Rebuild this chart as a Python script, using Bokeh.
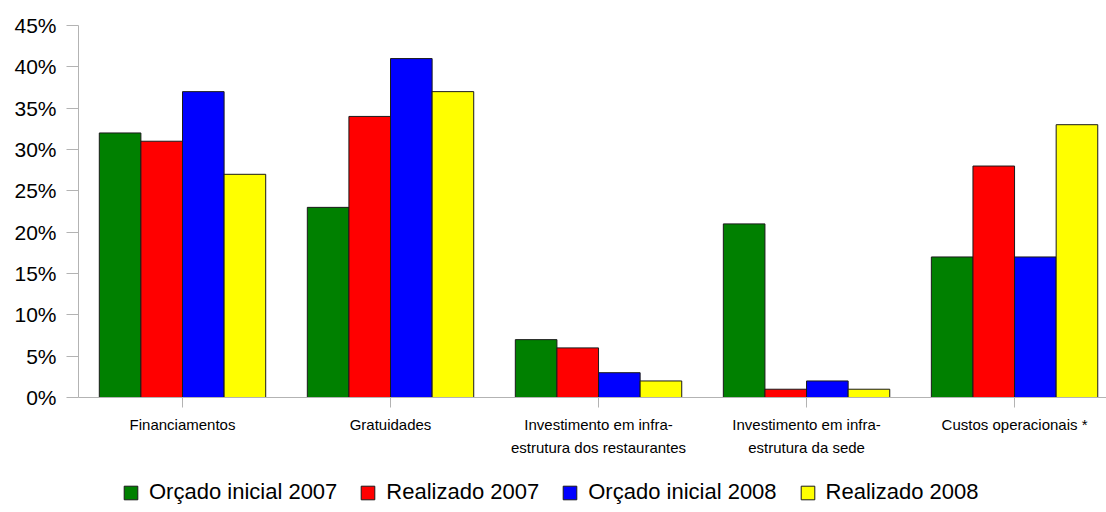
from bokeh.plotting import figure
from bokeh.layouts import column
from bokeh.models import (Range1d, FixedTicker, PrintfTickFormatter, Legend,
                          LegendItem, ColumnDataSource)
from bokeh.transform import dodge
from bokeh.embed import file_html
from bokeh.resources import INLINE

# Budget categories (x axis)
categories = [
    "Financiamentos",
    "Gratuidades",
    "Investimento em infra-\nestrutura dos restaurantes",
    "Investimento em infra-\nestrutura da sede",
    "Custos operacionais *",
]

# Series names (legend)
series_names = ["Orçado inicial 2007", "Realizado 2007",
                "Orçado inicial 2008", "Realizado 2008"]

# Share of each category, in percent
orcado_inicial_2007 = [32, 23, 7, 21, 17]
realizado_2007 = [31, 34, 6, 1, 28]
orcado_inicial_2008 = [37, 41, 3, 2, 17]
realizado_2008 = [27, 37, 2, 1, 33]

# Y axis ticks, in percent
y_ticks = [0, 5, 10, 15, 20, 25, 30, 35, 40, 45]

colors = ["#008000", "#ff0000", "#0000ff", "#ffff00"]
series_values = [orcado_inicial_2007, realizado_2007,
                 orcado_inicial_2008, realizado_2008]

W, H, LEGEND_H = 1106, 512, 50

centers = [i + 0.5 for i in range(len(categories))]
data = {"x": centers}
for i, vals in enumerate(series_values):
    data[f"s{i}"] = vals
source = ColumnDataSource(data)

p = figure(width=W, height=H - LEGEND_H, output_backend="svg",
           toolbar_location=None, title=None,
           x_range=Range1d(0, 4.942), y_range=Range1d(0, 45),
           min_border_left=78, min_border_right=0, min_border_top=25,
           min_border_bottom=H - LEGEND_H - 397)
p.outline_line_color = None
p.xgrid.visible = False
p.ygrid.visible = False

bar_w = 0.2
offsets = [-0.3, -0.1, 0.1, 0.3]
for i, col in enumerate(colors):
    p.vbar(x=dodge("x", offsets[i]), top=f"s{i}", width=bar_w, bottom=0,
           source=source, fill_color=col, line_color="#1a1a1a", line_width=1)

axis_gray = "#b3b3b3"

# Y axis
p.yaxis.ticker = FixedTicker(ticks=y_ticks)
p.yaxis.formatter = PrintfTickFormatter(format="%d%%")
p.yaxis.axis_line_color = axis_gray
p.yaxis.major_tick_line_color = axis_gray
p.yaxis.major_tick_out = 12
p.yaxis.major_tick_in = 0
p.yaxis.minor_tick_line_color = None
p.yaxis.major_label_standoff = 10
p.yaxis.major_label_text_font = "Liberation Sans"
p.yaxis.major_label_text_font_size = "21px"
p.yaxis.major_label_text_color = "black"

# X axis
p.xaxis.ticker = FixedTicker(ticks=centers)
p.xaxis.major_label_overrides = {c: lab for c, lab in zip(centers, categories)}
p.xaxis.axis_line_color = axis_gray
p.xaxis.major_tick_line_color = axis_gray
p.xaxis.major_tick_out = 10
p.xaxis.major_tick_in = 0
p.xaxis.minor_tick_line_color = None
p.xaxis.major_label_standoff = 8
p.xaxis.major_label_text_font = "Liberation Sans"
p.xaxis.major_label_text_font_size = "15px"
p.xaxis.major_label_text_line_height = 1.4
p.xaxis.major_label_text_color = "black"

# Legend strip below the chart; its bars sit outside the visible range,
# so only the legend swatches show
lg = figure(width=W, height=LEGEND_H, output_backend="svg",
            toolbar_location=None, title=None,
            x_range=Range1d(-20, -19), y_range=Range1d(0, 1),
            x_axis_location=None, y_axis_location=None,
            min_border_left=78, min_border_right=0,
            min_border_top=0, min_border_bottom=0)
lg.outline_line_color = None
lg.xgrid.visible = False
lg.ygrid.visible = False
items = []
for i, (name, col) in enumerate(zip(series_names, colors)):
    r = lg.vbar(x=dodge("x", offsets[i]), top=f"s{i}", width=bar_w, bottom=0,
                source=source, fill_color=col, line_color="#1a1a1a",
                line_width=1)
    items.append(LegendItem(label=name, renderers=[r]))

legend = Legend(items=items, orientation="horizontal", location=(44, 7),
                border_line_color=None, background_fill_alpha=0,
                padding=0, margin=0, spacing=22,
                glyph_width=17, glyph_height=17, label_standoff=10,
                label_text_font="Liberation Sans", label_text_font_size="22px",
                label_text_color="black")
lg.add_layout(legend)

layout = column(p, lg, spacing=0)
open("out.html", "w").write(file_html(layout, INLINE))
